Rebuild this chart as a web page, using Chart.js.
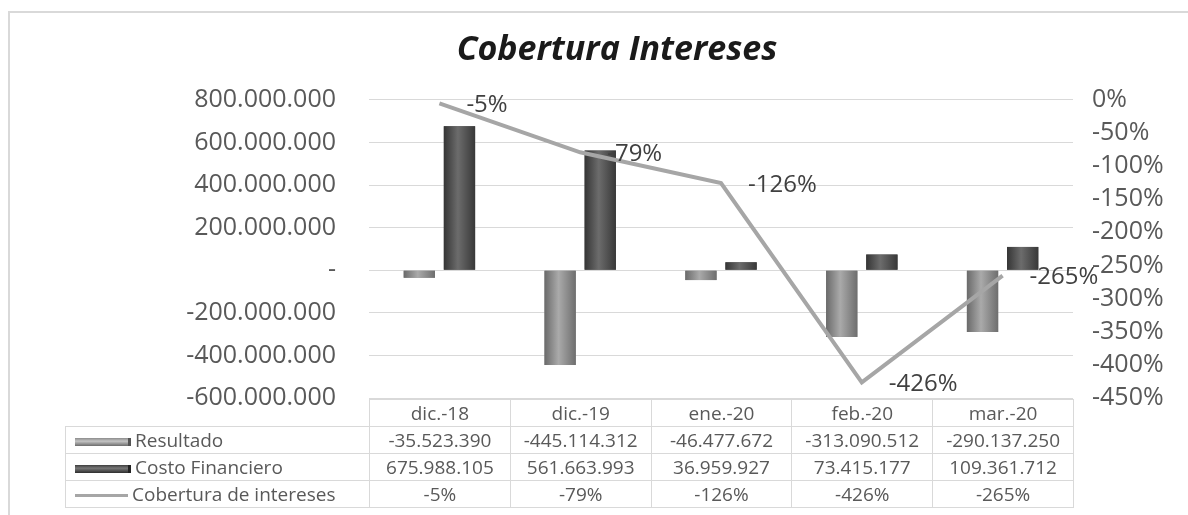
<!DOCTYPE html>
<html>
<head>
<meta charset="utf-8">
<script src="https://cdn.jsdelivr.net/npm/chart.js@4.4.1/dist/chart.umd.min.js"></script>
<style>
  body { margin: 0; background: #fff; font-family: "Open Sans", sans-serif; }
  #wrap { position: relative; width: 1188px; height: 515px; overflow: hidden; }
  #frame { position: absolute; left: 8px; top: 11px; width: 1200px; height: 520px;
           border-left: 2px solid #d9d9d9; border-top: 2px solid #d9d9d9; pointer-events: none; }
  #dataTable { position: absolute; border-collapse: collapse; table-layout: fixed;
               font-size: 19px; color: #595959; }
  #dataTable td { border: 1px solid #d9d9d9; text-align: center; padding: 0; white-space: nowrap; }
  #dataTable td.name { text-align: left; padding-left: 9px; }
  #dataTable td.blank { border: none; }
  .swatch { display: inline-block; width: 53px; vertical-align: middle; margin-right: 4px; }
  .sw-res { height: 8px; background: linear-gradient(#8c8c8c, #c4c4c4 40%, #6c6c6c); border-right: 3px solid #555; }
  .sw-cost { height: 8px; background: linear-gradient(#3e3e3e, #777 40%, #2e2e2e); border-right: 3px solid #222; }
  .sw-line { height: 3px; background: #a6a6a6; }
</style>
</head>
<body>
<div id="wrap">
  <canvas id="chart" width="1188" height="515"></canvas>
  <table id="dataTable"></table>
  <div id="frame"></div>
</div>
<script>
// Categories and series
var categories = ['dic.-18', 'dic.-19', 'ene.-20', 'feb.-20', 'mar.-20'];
var resultado = [-35523390, -445114312, -46477672, -313090512, -290137250];
var costoFinanciero = [675988105, 561663993, 36959927, 73415177, 109361712];
var cobertura = [-0.0526, -0.7925, -1.2575, -4.2646, -2.6531];

// Axis ranges / ticks
var leftAxis = { min: -600000000, max: 800000000, step: 200000000 };
var rightAxis = { min: -4.5, max: 0, step: 0.5 };

function fmtNum(n) {
  var s = Math.abs(Math.round(n)).toString().replace(/\B(?=(\d{3})+(?!\d))/g, '.');
  return (n < 0 ? '-' : '') + s;
}
function fmtPct(v) {
  return Math.round(v * 100) + '%';
}

// Cylinder-like shading on the bars
var cylinderPlugin = {
  id: 'cylinder',
  afterDatasetDraw: function(chart, args, opts) {
    var shades = opts.shades[args.index];
    if (!shades) return;
    var ctx = chart.ctx;
    args.meta.data.forEach(function(bar) {
      var p = bar.getProps(['x', 'y', 'base', 'width'], true);
      var left = p.x - p.width / 2;
      var g = ctx.createLinearGradient(left, 0, left + p.width, 0);
      g.addColorStop(0, shades[0]);
      g.addColorStop(0.45, shades[1]);
      g.addColorStop(1, shades[2]);
      ctx.save();
      ctx.fillStyle = g;
      ctx.fillRect(left, Math.min(p.y, p.base), p.width, Math.abs(p.base - p.y));
      ctx.restore();
    });
  }
};

// Percent labels to the right of the line points
var lineLabels = {
  id: 'lineLabels',
  afterDatasetsDraw: function(chart) {
    var meta = chart.getDatasetMeta(0);
    var ctx = chart.ctx;
    ctx.save();
    ctx.font = '24px "Open Sans"';
    ctx.fillStyle = '#404040';
    ctx.textAlign = 'left';
    ctx.textBaseline = 'middle';
    meta.data.forEach(function(pt, i) {
      ctx.fillText(fmtPct(cobertura[i]), pt.x + 27, pt.y + 2);
    });
    ctx.restore();
  }
};

var chart = new Chart(document.getElementById('chart'), {
  type: 'bar',
  data: {
    labels: categories,
    datasets: [
      {
        type: 'line',
        label: 'Cobertura de intereses',
        data: cobertura,
        yAxisID: 'y1',
        borderColor: '#a6a6a6',
        borderWidth: 4,
        pointRadius: 0,
        tension: 0,
        order: 0
      },
      {
        label: 'Resultado',
        data: resultado,
        backgroundColor: '#8a8a8a',
        yAxisID: 'y',
        categoryPercentage: 0.57,
        barPercentage: 0.78,
        order: 1
      },
      {
        label: 'Costo Financiero',
        data: costoFinanciero,
        backgroundColor: '#505050',
        yAxisID: 'y',
        categoryPercentage: 0.57,
        barPercentage: 0.78,
        order: 2
      }
    ]
  },
  options: {
    responsive: false,
    animation: false,
    devicePixelRatio: 1,
    layout: { padding: { left: 46, right: 0, top: 0, bottom: 117 } },
    plugins: {
      legend: { display: false },
      tooltip: { enabled: false },
      title: {
        display: true,
        text: 'Cobertura Intereses',
        color: '#1a1a1a',
        font: { family: '"Open Sans"', size: 34, weight: 'bold', style: 'italic', lineHeight: 1.2 },
        padding: { top: 30, bottom: 29 }
      },
      cylinder: {
        shades: { 1: ['#6a6a6a', '#aaaaaa', '#6e6e6e'], 2: ['#353535', '#6c6c6c', '#383838'] }
      }
    },
    scales: {
      x: { display: false, offset: true },
      y: {
        position: 'left',
        min: leftAxis.min,
        max: leftAxis.max,
        border: { display: false },
        grid: { color: '#d9d9d9', lineWidth: 1, drawTicks: false },
        ticks: {
          stepSize: leftAxis.step,
          padding: 33,
          color: '#595959',
          font: { family: '"Open Sans"', size: 25 },
          callback: function(v) { return v === 0 ? '-' : fmtNum(v); }
        },
        afterFit: function(s) { s.width = 323; }
      },
      y1: {
        position: 'right',
        min: rightAxis.min,
        max: rightAxis.max,
        border: { display: false },
        grid: { display: false, drawTicks: false },
        ticks: {
          stepSize: rightAxis.step,
          padding: 19,
          color: '#595959',
          font: { family: '"Open Sans"', size: 25 },
          callback: function(v) { return fmtPct(v); }
        },
        afterFit: function(s) { s.width = 115; }
      }
    }
  },
  plugins: [cylinderPlugin, lineLabels]
});

// Data table under the plot, columns aligned with the category scale
(function buildTable() {
  var area = chart.chartArea;
  var tableLeft = 65;
  var colW = (area.right - area.left) / categories.length;
  var table = document.getElementById('dataTable');
  table.style.left = tableLeft + 'px';
  table.style.top = (area.bottom + 1) + 'px';
  table.style.width = (area.right - tableLeft) + 'px';

  var html = '<colgroup><col style="width:' + (area.left - tableLeft) + 'px">';
  categories.forEach(function() { html += '<col style="width:' + colW + 'px">'; });
  html += '</colgroup>';

  html += '<tr style="height:27px"><td class="blank"></td>';
  categories.forEach(function(c) { html += '<td>' + c + '</td>'; });
  html += '</tr>';

  var rows = [
    { name: 'Resultado', sw: 'sw-res', vals: resultado.map(fmtNum) },
    { name: 'Costo Financiero', sw: 'sw-cost', vals: costoFinanciero.map(fmtNum) },
    { name: 'Cobertura de intereses', sw: 'sw-line', vals: cobertura.map(fmtPct) }
  ];
  rows.forEach(function(r) {
    html += '<tr style="height:27px"><td class="name"><span class="swatch ' + r.sw + '"></span>' + r.name + '</td>';
    r.vals.forEach(function(v) { html += '<td>' + v + '</td>'; });
    html += '</tr>';
  });
  table.innerHTML = html;
})();
</script>
</body>
</html>
